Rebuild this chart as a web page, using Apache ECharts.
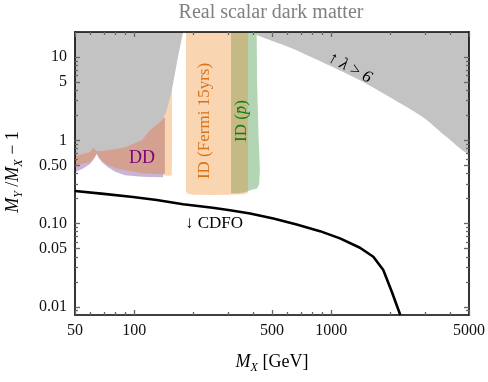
<!DOCTYPE html>
<html><head><meta charset="utf-8">
<script src="https://cdn.jsdelivr.net/npm/echarts@6/dist/echarts.min.js"></script>
<style>html,body{margin:0;padding:0;background:#fff}#c{width:488px;height:382px}</style>
</head><body><div id="c"></div>
<script>
// ---- axis ticks ----
const xTickValues = [50, 100, 500, 1000, 5000];
const xTickLabels = ['50', '100', '500', '1000', '5000'];
const xMinorTicks = [60, 70, 80, 90, 200, 300, 400, 600, 700, 800, 900, 2000, 3000, 4000];
const yTickValues = [0.01, 0.05, 0.1, 0.5, 1, 5, 10];
const yTickLabels = ['0.01', '0.05', '0.10', '0.50', '1', '5', '10'];
const yMinorTicks = [0.009, 0.02, 0.03, 0.04, 0.06, 0.07, 0.08, 0.09, 0.2, 0.3, 0.4, 0.6, 0.7, 0.8, 0.9, 2, 3, 4, 6, 7, 8, 9];

// ---- regions [M_X, M_Y/M_X - 1] ----
const grayLeftRegion = [[50, 20], [177, 20], [167, 10.4], [155, 3.97], [145, 2.16], [138, 1.735], [120, 1.32], [109.4, 1.0], [89.7, 0.824], [73.5, 0.759], [64.7, 0.738], [61.7, 0.813], [59.6, 0.724], [50, 0.643]];
const ddPurpleRegion = [[50, 1.0], [100, 1.2], [130, 1.6], [140, 1.9], [140, 0.36], [125, 0.362], [109.4, 0.365], [89.7, 0.381], [80, 0.42], [73.5, 0.475], [69, 0.54], [66, 0.61], [64.3, 0.69], [62.5, 0.6], [59.6, 0.52], [55, 0.46], [50, 0.414]];
const ddRedRegion = [[50, 1.0], [100, 1.2], [130, 1.6], [143, 1.9], [143, 0.40], [138, 0.392], [109.4, 0.403], [89.7, 0.437], [80, 0.465], [73.5, 0.502], [69, 0.56], [66, 0.64], [64.7, 0.70], [63, 0.63], [59.6, 0.55], [55, 0.525], [50, 0.502]];
const fermiStripRegion = [[138, 20], [155, 20], [155.5, 1.0], [155, 0.381], [150, 0.375], [140, 0.38]];
const fermiRegion = [[183, 20], [377, 20], [377, 0.235], [360, 0.226], [300, 0.222], [250, 0.221], [200, 0.223], [187, 0.228], [183, 0.24]];
const pbarRegion = [[310, 20], [418, 20], [420, 5], [428, 1], [434, 0.45], [430, 0.3], [420, 0.265], [395, 0.255], [377, 0.245], [340, 0.232], [310, 0.232]];
const overlapRegion = [[310, 20], [377, 20], [377, 0.245], [340, 0.232], [310, 0.232]];
const grayRightRegion = [[405, 20], [617, 13], [907, 8.6], [1351, 5.5], [1986, 3.3], [2920, 1.9], [3866, 1.09], [5000, 0.72], [5000, 20]];

// ---- CDFO curve ----
const cdfoCurve = [[50, 0.247], [70, 0.228], [98.5, 0.209], [130, 0.192], [177, 0.171], [250, 0.155], [306, 0.145], [387, 0.1325], [508, 0.1154], [667, 0.0978], [876, 0.0813], [1107, 0.0665], [1398, 0.0513], [1634, 0.04], [1836, 0.0277], [2026, 0.0153], [2240, 0.008]];

const SERIF = '"Liberation Serif", "DejaVu Serif", serif';
const TICK_COLOR = '#666';

function fmt(values, labels) {
  return function (v) {
    for (let i = 0; i < values.length; i++) {
      if (Math.abs(Math.log10(v) - Math.log10(values[i])) < 1e-6) return labels[i];
    }
    return '';
  };
}

function makeAxis(dim, pos, ticks, len, withLine, withLabels) {
  const isX = dim === 'x';
  return {
    type: 'log',
    min: isX ? 50 : 0.008, max: isX ? 5000 : 20,
    position: pos,
    z: 10,
    splitLine: { show: false },
    axisLine: { show: withLine, onZero: false, lineStyle: { color: '#000', width: 1.6 } },
    axisTick: { show: true, inside: true, length: len, customValues: ticks, lineStyle: { color: TICK_COLOR, width: 1.3 } },
    axisLabel: withLabels ? {
      show: true, margin: 8, customValues: isX ? xTickValues : yTickValues,
      formatter: isX ? fmt(xTickValues, xTickLabels) : fmt(yTickValues, yTickLabels),
      color: '#111', fontSize: 16, fontFamily: SERIF
    } : { show: false }
  };
}

function region(name, pts, color, smooth) {
  return {
    type: 'custom', name: name, xAxisIndex: 0, yAxisIndex: 0, clip: true,
    data: pts, encode: { x: 0, y: 1 }, silent: true,
    renderItem: function (params, api) {
      if (params.dataIndex !== 0) return null;
      const points = pts.map(function (p) { return api.coord(p); });
      return { type: 'polygon', shape: { points: points, smooth: smooth || 0 }, style: { fill: color } };
    }
  };
}

const chart = echarts.init(document.getElementById('c'), null, { renderer: 'canvas' });
chart.setOption({
  animation: false,
  backgroundColor: '#fff',
  grid: { left: 75, right: 19, top: 32, bottom: 67, containLabel: false },
  xAxis: [
    makeAxis('x', 'bottom', xTickValues, 5, true, true),
    makeAxis('x', 'bottom', xMinorTicks, 3, false, false),
    makeAxis('x', 'top', xTickValues, 5, true, false),
    makeAxis('x', 'top', xMinorTicks, 3, false, false)
  ],
  yAxis: [
    makeAxis('y', 'left', yTickValues, 5, true, true),
    makeAxis('y', 'left', yMinorTicks, 3, false, false),
    makeAxis('y', 'right', yTickValues, 5, true, false),
    makeAxis('y', 'right', yMinorTicks, 3, false, false)
  ],
  series: [
    region('fermiStrip', fermiStripRegion, '#f9d5b2'),
    region('ddPurple', ddPurpleRegion, '#c9b3d6'),
    region('ddRed', ddRedRegion, '#d4a190'),
    region('grayLeft', grayLeftRegion, '#c3c3c3'),
    region('fermi', fermiRegion, '#f9d5b2'),
    region('grayRight', grayRightRegion, '#c3c3c3', 0.25),
    region('pbar', pbarRegion, '#b3d5b4'),
    region('overlap', overlapRegion, '#c5b985'),
    {
      type: 'line', name: 'CDFO', data: cdfoCurve, xAxisIndex: 0, yAxisIndex: 0,
      showSymbol: false, clip: true, silent: true,
      lineStyle: { color: '#000', width: 2.6, join: 'round' }
    }
  ],
  graphic: [
    { type: 'text', x: 271, y: 13, style: { text: 'Real scalar dark matter', font: '20px ' + SERIF, fill: '#808080', align: 'center', verticalAlign: 'middle' } },
    { type: 'text', x: 272, y: 362, style: {
      text: '{i|M}{s|X}{n| [GeV]}', align: 'center', verticalAlign: 'middle',
      rich: {
        i: { fontFamily: SERIF, fontSize: 18, fontStyle: 'italic', fill: '#000', lineHeight: 24 },
        s: { fontFamily: SERIF, fontSize: 12, fontStyle: 'italic', fill: '#000', lineHeight: 12, verticalAlign: 'bottom' },
        n: { fontFamily: SERIF, fontSize: 18, fill: '#000', lineHeight: 24 }
      } } },
    { type: 'text', x: 13, y: 172, rotation: Math.PI / 2, style: {
      text: '{i|M}{s|Y}{n| /}{i|M}{s|X}{n| − 1}', align: 'center', verticalAlign: 'middle',
      rich: {
        i: { fontFamily: SERIF, fontSize: 18, fontStyle: 'italic', fill: '#000', lineHeight: 24 },
        s: { fontFamily: SERIF, fontSize: 12, fontStyle: 'italic', fill: '#000', lineHeight: 12, verticalAlign: 'bottom' },
        n: { fontFamily: SERIF, fontSize: 18, fill: '#000', lineHeight: 24 }
      } } },
    { type: 'text', x: 142, y: 158, z: 100, style: { text: 'DD', font: '18px ' + SERIF, fill: '#800080', align: 'center', verticalAlign: 'middle' } },
    { type: 'text', x: 205, y: 121, z: 100, rotation: Math.PI / 2, style: { text: 'ID (Fermi 15yrs)', font: '17px ' + SERIF, fill: '#d9731a', align: 'center', verticalAlign: 'middle' } },
    { type: 'text', x: 242, y: 121, z: 100, rotation: Math.PI / 2, style: {
      text: '{n|ID (}{i|p\u0304}{n|)}', align: 'center', verticalAlign: 'middle',
      rich: {
        n: { fontFamily: SERIF, fontSize: 17, fill: '#118011' },
        i: { fontFamily: SERIF, fontSize: 17, fontStyle: 'italic', fill: '#118011' }
      } } },
    { type: 'text', x: 214, y: 224, z: 100, style: { text: '↓ CDFO', font: '17px ' + SERIF, fill: '#000', align: 'center', verticalAlign: 'middle' } },
    { type: 'text', x: 350, y: 68, z: 100, rotation: -0.5, style: {
      text: '{n|↑ }{i|λ}{n| > }{i|6}', align: 'center', verticalAlign: 'middle',
      rich: {
        n: { fontFamily: SERIF, fontSize: 17, fill: '#000' },
        i: { fontFamily: SERIF, fontSize: 17, fontStyle: 'italic', fill: '#000' }
      } } }
  ]
});
</script>
</body></html>
